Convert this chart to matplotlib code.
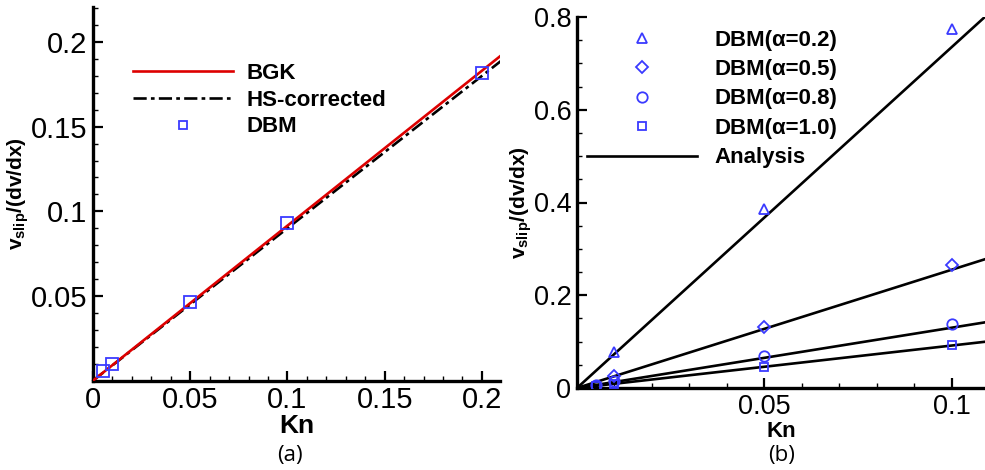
import matplotlib
matplotlib.use("Agg")
import matplotlib.pyplot as plt
from matplotlib.ticker import FixedLocator, MultipleLocator, FuncFormatter
import numpy as np

plt.rcParams['font.family'] = ['Liberation Sans', 'DejaVu Sans']
plt.rcParams['mathtext.fontset'] = 'custom'
plt.rcParams['mathtext.rm'] = 'Liberation Sans'
plt.rcParams['mathtext.bf'] = 'Liberation Sans:bold'

# ---------------- data: panel (a) ----------------
kn_line_a = [0.0, 0.21]
bgk_vals = [0.0, 0.1922]
hs_vals = [0.0, 0.1890]
kn_dbm_a = [0.005, 0.01, 0.05, 0.1, 0.2]
dbm_vals_a = [0.0058, 0.0096, 0.0466, 0.0929, 0.1819]

# ---------------- data: panel (b) ----------------
alpha_labels = ['DBM(α=0.2)', 'DBM(α=0.5)', 'DBM(α=0.8)', 'DBM(α=1.0)']
kn_b = [0.005, 0.01, 0.05, 0.1]
dbm_a02 = [np.nan, 0.077, 0.386, 0.774]
dbm_a05 = [np.nan, 0.0266, 0.132, 0.265]
dbm_a08 = [0.007, 0.015, 0.0697, 0.137]
dbm_a10 = [0.0046, 0.0096, 0.046, 0.0927]
kn_line_b = [0.0, 0.11]
analysis_a02 = [0.0, 0.8085]
analysis_a05 = [0.0, 0.2805]
analysis_a08 = [0.0, 0.1430]
analysis_a10 = [0.0, 0.1007]

W, H = 985, 470
fig = plt.figure(figsize=(W / 100, H / 100), dpi=100)

def fc(x0, y0, x1, y1):
    return [x0 / W, 1 - y1 / H, (x1 - x0) / W, (y1 - y0) / H]

blue = '#3a3aff'
fmt = FuncFormatter(lambda v, p: '%g' % round(v, 4))

def style_axes(ax, fs):
    for s in ['top', 'right']:
        ax.spines[s].set_visible(False)
    for s in ['left', 'bottom']:
        ax.spines[s].set_linewidth(2.4)
    ax.tick_params(which='major', direction='in', length=7, width=1.6, labelsize=fs, pad=4)
    ax.tick_params(which='minor', direction='in', length=3.5, width=1.0)

# ---------------- panel (a) ----------------
axa = fig.add_axes(fc(93, 7, 500, 380.6))
axa.plot(kn_line_a, hs_vals, color='black', lw=1.9, dashes=[5, 1.6, 1.4, 1.6],
         label='HS-corrected', zorder=2)
axa.plot(kn_line_a, bgk_vals, color='#dd0000', lw=1.9, label='BGK', zorder=3)
axa.plot(kn_dbm_a, dbm_vals_a, linestyle='none', marker='s', ms=8, mfc='none',
         mec=blue, mew=1.3, label='DBM', zorder=4)
axa.set_xlim(0, 0.2093)
axa.set_ylim(0, 0.2207)
axa.xaxis.set_major_locator(FixedLocator([0, 0.05, 0.1, 0.15, 0.2]))
axa.xaxis.set_minor_locator(MultipleLocator(0.01))
axa.yaxis.set_major_locator(FixedLocator([0.05, 0.1, 0.15, 0.2]))
axa.yaxis.set_minor_locator(MultipleLocator(0.01))
axa.xaxis.set_major_formatter(fmt)
axa.yaxis.set_major_formatter(fmt)
style_axes(axa, 21)
axa.set_xlabel('Kn', fontsize=19, fontweight='bold', labelpad=0)
axa.set_ylabel(r'$\mathbf{v_{slip}/(dv/dx)}$', fontsize=15, labelpad=0)
h = axa.get_legend_handles_labels()[0]
axa.legend([h[1], h[0], h[2]], ['BGK', 'HS-corrected', 'DBM'], loc='upper left',
           bbox_to_anchor=(0.05, 0.903), frameon=False, handlelength=4.5,
           handletextpad=0.6, labelspacing=0.25, markerscale=0.75,
           prop={'weight': 'bold', 'size': 16})
fig.text(290 / W, 1 - 456 / H, '(a)', fontsize=16, family='Open Sans',
         ha='center', va='center')

# ---------------- panel (b) ----------------
axb = fig.add_axes(fc(577, 17, 985, 388))
for vals in [analysis_a02, analysis_a05, analysis_a08]:
    axb.plot(kn_line_b, vals, color='black', lw=1.9, zorder=2)
axb.plot(kn_line_b, analysis_a10, color='black', lw=1.9, zorder=2, label='Analysis')
mk = dict(linestyle='none', mfc='none', mec=blue, mew=1.3, zorder=3)
axb.plot(kn_b, dbm_a02, marker='^', ms=7.5, label=alpha_labels[0], **mk)
axb.plot(kn_b, dbm_a05, marker='D', ms=6.3, label=alpha_labels[1], **mk)
axb.plot(kn_b, dbm_a08, marker='o', ms=7.5, label=alpha_labels[2], **mk)
axb.plot(kn_b, dbm_a10, marker='s', ms=6.2, label=alpha_labels[3], **mk)
axb.set_xlim(0, 0.1089)
axb.set_ylim(0, 0.8)
axb.xaxis.set_major_locator(FixedLocator([0.05, 0.1]))
axb.xaxis.set_minor_locator(MultipleLocator(0.01))
axb.yaxis.set_major_locator(FixedLocator([0, 0.2, 0.4, 0.6, 0.8]))
axb.yaxis.set_minor_locator(MultipleLocator(0.05))
axb.xaxis.set_major_formatter(fmt)
axb.yaxis.set_major_formatter(fmt)
style_axes(axb, 19.5)
axb.set_xlabel('Kn', fontsize=16, fontweight='bold', labelpad=1)
axb.set_ylabel(r'$\mathbf{v_{slip}/(dv/dx)}$', fontsize=15, labelpad=0)
hb, lb = axb.get_legend_handles_labels()
order = [1, 2, 3, 4, 0]
axb.legend([hb[i] for i in order], [lb[i] for i in order], loc='upper left',
           bbox_to_anchor=(-0.025, 1.02), frameon=False, handlelength=4.95,
           handletextpad=0.81, labelspacing=0.38,
           prop={'weight': 'bold', 'size': 16})
fig.text(782 / W, 1 - 455 / H, '(b)', fontsize=16, family='Open Sans',
         ha='center', va='center')

fig.savefig('out.png', dpi=100)
